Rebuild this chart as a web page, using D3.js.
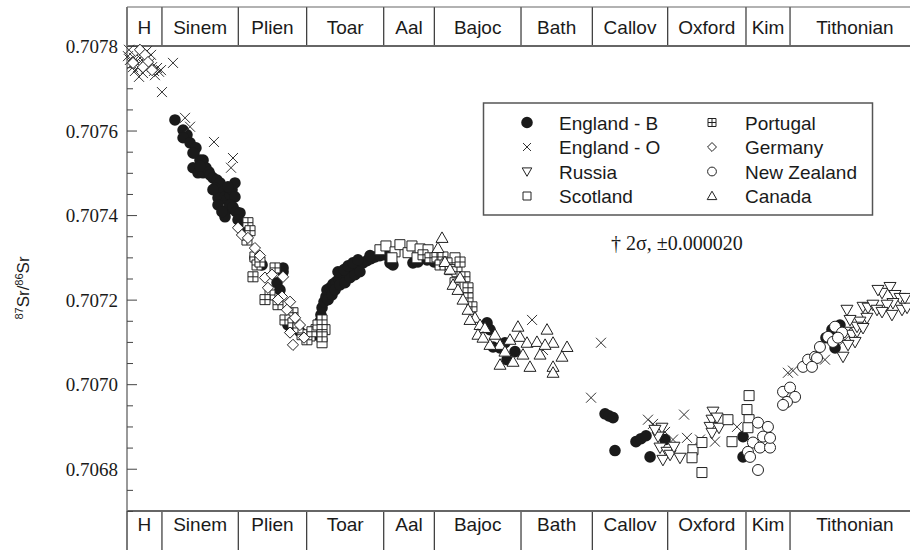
<!DOCTYPE html>
<html><head><meta charset="utf-8">
<script src="https://cdn.jsdelivr.net/npm/d3@7"></script>
<style>html,body{margin:0;padding:0;background:#fff;} svg{display:block}</style>
</head><body>
<svg id="c" width="910" height="550"></svg>
<script>
// ---- data ----
const stageNames = ["H","Sinem","Plien","Toar","Aal","Bajoc","Bath","Callov","Oxford","Kim","Tithonian"];
// stage boundaries on the (relative) age axis, Ma
const stageBoundsMa = [200.0,197.5,192.04,187.15,181.64,178.02,171.82,166.72,161.33,155.73,152.58,143.3];
const yTicksMajor = [0.7068,0.7070,0.7072,0.7074,0.7076,0.7078];

// [age Ma, 87Sr/86Sr]
const englandB = [[196.57,.707625],[195.99,.707601],[195.71,.707590],[195.99,.707583],[195.49,.707571],[195.21,.707547],[195.07,.707559],[195.28,.707512],[194.92,.707500],[194.78,.707530],[194.56,.707530],[194.56,.707500],[195.28,.707547],
[194.35,.707512],[194.14,.707502],[194.78,.707516],
[194.06,.707495],[193.85,.707488],[193.56,.707483],[193.35,.707476],[193.71,.707464],[193.21,.707452],[193.49,.707441],[192.99,.707443],[192.85,.707436],[192.63,.707448],[192.49,.707460],[192.28,.707443],[192.85,.707412],[192.63,.707424],[192.42,.707419],[192.20,.707408],[191.92,.707405],[192.99,.707396],[192.06,.707389],[191.78,.707377],[191.56,.707365],[193.85,.707460],[193.49,.707424],[193.21,.707408],[192.28,.707476],[192.78,.707467],
[190.85,.707299],[190.34,.707282],[188.84,.707266],[189.27,.707240],[189.06,.707223],[188.84,.707275],[188.49,.707140],[187.98,.707133],[187.63,.707124],[188.34,.707152],
[186.48,.707117],[186.34,.707133],[186.20,.707148],[186.13,.707164],[186.05,.707181],[185.91,.707195],[185.77,.707207],[185.70,.707223],[185.48,.707228],[185.27,.707237],[185.05,.707242],[184.84,.707249],[184.62,.707254],[184.34,.707259],[184.12,.707266],[183.91,.707271],[183.62,.707275],[183.41,.707280],[183.12,.707287],[182.84,.707292],[182.55,.707297],[182.26,.707301],[181.91,.707304],[181.55,.707306],[181.19,.707287],[185.62,.707200],[185.34,.707211],[185.12,.707223],[184.77,.707235],[184.41,.707240],[184.05,.707252],[183.69,.707259],[183.34,.707266],[184.91,.707266],[184.48,.707271],[184.19,.707280],[183.84,.707287],[183.48,.707294],[182.62,.707304],[180.98,.707282],
[179.55,.707287],[179.19,.707289],[178.54,.707294],[178.04,.707289],
[174.25,.707145],[174.04,.707129],[173.82,.707088],[173.32,.707086],[172.82,.707058],[172.25,.707077],[172.97,.707098],
[165.81,.706930],[165.53,.706925],[165.24,.706921],[165.10,.706843],[163.60,.706864],[163.24,.706871],[162.88,.706878],[162.59,.706828],[161.52,.706869],
[155.94,.706876],[155.94,.706828],
[149.58,.707129],[149.36,.707086],[149.01,.707140],[150.01,.707110]];

const englandO = [[199.93,.707776],[199.79,.707767],[199.64,.707757],[199.86,.707791],[199.50,.707772],[199.36,.707762],[199.21,.707750],[199.43,.707741],[199.07,.707779],[198.93,.707767],[198.78,.707755],[198.64,.707746],[198.86,.707736],[198.50,.707772],[198.36,.707760],[198.21,.707750],[198.07,.707741],[197.85,.707748],[197.71,.707739],[197.57,.707743],[198.00,.707731],[199.14,.707727],[199.57,.707750],[198.57,.707788],[198.28,.707779],
[196.71,.707760],[197.50,.707691],[195.85,.707630],[195.49,.707609],[193.78,.707573],[192.42,.707535],[192.56,.707512],
[171.03,.707152],[170.25,.707081],[166.10,.707098],[166.81,.706968],[162.74,.706916],[162.38,.706906],[160.95,.706869],[160.16,.706928],[159.95,.706873],[157.95,.706864],[156.37,.706899],[159.02,.706869],[161.52,.706887],
[152.73,.707027],[152.37,.707032],[150.08,.707058],[148.65,.707105]];

const russia = [[161.74,.706897],[162.02,.706876],[161.88,.706850],[161.38,.706840],[161.67,.706821],[161.16,.706833],[160.45,.706826],[158.09,.706935],[158.16,.706916],[158.30,.706899],[158.16,.706885],[162.24,.706892],[160.88,.706852],[157.80,.706921],[157.66,.706897],
[148.65,.707124],[148.15,.707117],[147.93,.707100],[147.79,.707124],[148.43,.707093],[148.79,.707065],[148.51,.707176],[147.36,.707183],[147.00,.707181],[146.65,.707188],[146.36,.707176],[146.00,.707216],[145.43,.707230],[145.07,.707211],[144.71,.707204],[145.22,.707192],[145.64,.707188],[146.00,.707171],[145.29,.707164],[144.57,.707176],[144.21,.707181],[146.29,.707223],[147.08,.707157],[147.58,.707148],[147.79,.707136],[147.36,.707133],[148.29,.707152],[144.36,.707204]];

const scotland = [[181.91,.707318],[181.48,.707327],[180.83,.707313],[180.48,.707330],[179.90,.707311],[179.62,.707327],[179.04,.707320],[178.47,.707318],[181.05,.707299],[179.26,.707299],[176.54,.707299],[186.91,.707114],[186.48,.707129],[185.84,.707129],[186.05,.707098],
[159.52,.706845],[159.59,.706826],[158.88,.706862],[158.88,.706791],[157.02,.706916],[156.73,.706864],[155.51,.706973],[155.66,.706940],[155.51,.706916],[155.59,.706897]];

const portugal = [[191.35,.707382],[191.20,.707363],[191.42,.707341],[190.85,.707301],[190.70,.707282],[190.99,.707254],[190.49,.707289],[189.41,.707275],[189.77,.707211],[189.20,.707188],[190.13,.707200],[188.13,.707169],[188.70,.707152],[188.13,.707145],[187.48,.707117],[187.13,.707105],[187.77,.707133],[186.77,.707124],[186.34,.707140],[186.05,.707152],[186.05,.707129],[186.05,.707112],
[178.83,.707306],[178.33,.707299],[177.83,.707301],[177.40,.707301],[177.11,.707287],[176.90,.707271],[176.40,.707266],[175.83,.707254],[175.61,.707228],[175.61,.707204],[175.33,.707183],[177.61,.707282],[176.54,.707240],[176.18,.707289]];

const germany = [[199.07,.707791],[198.71,.707779],[198.50,.707762],[198.21,.707743],[199.57,.707760],[198.86,.707750],
[192.06,.707370],[191.78,.707353],[191.35,.707346],[190.85,.707322],[190.49,.707304],[190.13,.707252],[188.84,.707254],[189.92,.707228],[188.91,.707207],[188.34,.707195],[188.56,.707176],[187.98,.707157],[188.34,.707122],[188.13,.707093],[187.63,.707140],[187.34,.707110],[189.63,.707259],[189.20,.707200]];

const newZealand = [[154.87,.706909],[154.16,.706899],[154.51,.706876],[155.23,.706862],[155.59,.706840],[154.73,.706850],[154.01,.706850],[154.87,.706797],[155.44,.706828],[154.01,.706873],
[153.08,.706982],[152.58,.706992],[152.22,.706970],[152.80,.706958],[153.08,.706951],
[151.65,.707041],[151.29,.707058],[150.79,.707065],[150.44,.707088],[150.65,.707062],[151.01,.707041],[149.86,.707112],[149.36,.707136],[149.51,.707100],[148.86,.707122],[149.15,.707110]];

const canada = [[177.47,.707346],[177.76,.707322],[177.26,.707289],[176.68,.707235],[176.33,.707223],[175.97,.707200],[175.61,.707176],[175.11,.707157],[174.75,.707140],[174.40,.707133],[174.90,.707117],[175.47,.707152],[176.18,.707252],[176.90,.707271],[173.68,.707117],[173.32,.707093],[172.97,.707077],[172.04,.707136],[169.96,.707129],[171.89,.707112],[171.39,.707098],[170.68,.707100],[169.53,.707098],[168.53,.707088],[168.89,.707065],[169.53,.707041],[171.18,.707041],[173.32,.707046],[172.39,.707053],[171.68,.707070],[169.53,.707027],[170.46,.707070],[170.10,.707093],[172.61,.707105],[174.04,.707093],[174.54,.707110]];

const legendCol1 = ["England - B","England - O","Russia","Scotland"];
const legendCol2 = ["Portugal","Germany","New Zealand","Canada"];
const noteText = "\u2020 2\u03c3, \u00b10.000020";

// ---- drawing ----
const svg = d3.select("#c");
const x = d3.scaleLinear().domain([200,144]).range([127,910]);
const y = d3.scaleLinear().domain([0.7067,0.7078]).range([511,46]);
const ink = "#1a1a1a";

function shape(type, k){
  const s = 5*k;
  switch(type){
    case "cross": return `M${-s},${-s}L${s},${s}M${-s},${s}L${s},${-s}`;
    case "tdown": return `M${-6*k},${-4.5*k}L${6*k},${-4.5*k}L0,${6*k}Z`;
    case "tup": return `M${-6*k},${4.5*k}L${6*k},${4.5*k}L0,${-6*k}Z`;
    case "square": return `M${-s},${-s}h${2*s}v${2*s}h${-2*s}Z`;
    case "sqplus": return `M${-s},${-s}h${2*s}v${2*s}h${-2*s}ZM0,${-s}V${s}M${-s},0H${s}`;
    case "diamond": { const d=5.6*k; return `M0,${-d}L${d},0L0,${d}L${-d},0Z`; }
    case "circle": { const r=5.5*k; return `M${r},0A${r},${r} 0 1 1 ${-r},0A${r},${r} 0 1 1 ${r},0Z`; }
    case "dot": { const r=5.8*k; return `M${r},0A${r},${r} 0 1 1 ${-r},0A${r},${r} 0 1 1 ${r},0Z`; }
  }
}
const series = [
  {name:"England - B", data:englandB, type:"dot"},
  {name:"England - O", data:englandO, type:"cross"},
  {name:"Russia", data:russia, type:"tdown"},
  {name:"Scotland", data:scotland, type:"square"},
  {name:"Portugal", data:portugal, type:"sqplus"},
  {name:"Germany", data:germany, type:"diamond"},
  {name:"New Zealand", data:newZealand, type:"circle"},
  {name:"Canada", data:canada, type:"tup"}
];
function styleMark(sel, type){
  if(type==="dot") sel.attr("fill","#1a1a1a").attr("stroke","none");
  else if(type==="cross") sel.attr("fill","none").attr("stroke","#333").attr("stroke-width",1);
  else sel.attr("fill","#fff").attr("stroke","#222").attr("stroke-width",1);
}

// stage bands
const bands = [{y0:7,y1:46,ty:33.5},{y0:511,y1:552,ty:531}];
const xs = stageBoundsMa.map(d=>x(d));
bands.forEach(b=>{
  const g = svg.append("g");
  g.selectAll("line.div").data(stageBoundsMa.slice(0,-1)).join("line")
    .attr("x1",d=>x(d)).attr("x2",d=>x(d)).attr("y1",b.y0).attr("y2",b.y1)
    .attr("stroke","#333").attr("stroke-width",1.2);
  g.selectAll("text").data(stageNames).join("text")
    .attr("x",(d,i)=>(xs[i]+xs[i+1])/2).attr("y",b.ty)
    .attr("text-anchor","middle").attr("font-family","'Liberation Sans', Arial, sans-serif")
    .attr("font-size",19).attr("fill",ink).text(d=>d);
});
svg.append("line").attr("x1",127).attr("x2",920).attr("y1",7).attr("y2",7).attr("stroke","#666").attr("stroke-width",1.2);
svg.append("line").attr("x1",127).attr("x2",920).attr("y1",46).attr("y2",46).attr("stroke","#666").attr("stroke-width",2);
svg.append("line").attr("x1",127).attr("x2",920).attr("y1",511).attr("y2",511).attr("stroke","#666").attr("stroke-width",2);
svg.append("line").attr("x1",127).attr("x2",127).attr("y1",7).attr("y2",550).attr("stroke","#777").attr("stroke-width",1.5);

// y axis (ticks inward)
const minor = d3.range(0,23).map(i=>+(0.7067+i*0.00005).toFixed(5)).filter(v=>!yTicksMajor.some(m=>Math.abs(m-v)<1e-7));
const gMinor = svg.append("g").attr("transform","translate(127,0)")
  .call(d3.axisLeft(y).tickValues(minor).tickSize(-6).tickFormat(""));
gMinor.select(".domain").remove();
gMinor.selectAll("line").attr("stroke","#444");
const gMajor = svg.append("g").attr("transform","translate(127,0)")
  .call(d3.axisLeft(y).tickValues(yTicksMajor).tickSize(-10).tickPadding(9).tickFormat(d3.format(".4f")));
gMajor.select(".domain").remove();
gMajor.selectAll("line").attr("stroke","#444");
gMajor.selectAll("text").attr("font-family","'Liberation Serif', 'Times New Roman', serif").attr("font-size",19).attr("fill",ink).attr("dy","0.34em");

// y title
const yt = svg.append("text").attr("transform","translate(28.5,288) rotate(-90)")
  .attr("text-anchor","middle").attr("font-family","'Liberation Sans', Arial, sans-serif").attr("font-size",17).attr("fill",ink);
yt.append("tspan").attr("font-size",11).attr("dy",-6).text("87");
yt.append("tspan").attr("dy",6).text("Sr/");
yt.append("tspan").attr("font-size",11).attr("dy",-6).text("86");
yt.append("tspan").attr("dy",6).text("Sr");

// points
series.forEach(s=>{
  svg.append("g").selectAll("path").data(s.data).join("path")
    .attr("transform",d=>`translate(${x(d[0])},${y(d[1])})`)
    .attr("d",shape(s.type,1))
    .call(sel=>styleMark(sel,s.type));
});

// legend
svg.append("rect").attr("x",483.5).attr("y",103).attr("width",389).attr("height",112)
  .attr("fill","#fff").attr("stroke","#555").attr("stroke-width",1.5);
const rowsY = [122.5,147,171.5,196];
[legendCol1,legendCol2].forEach((col,ci)=>{
  col.forEach((name,ri)=>{
    const s = series.find(q=>q.name===name);
    const sx = ci===0?527:712, tx = ci===0?559:745;
    svg.append("path").attr("transform",`translate(${sx},${rowsY[ri]})`)
      .attr("d",shape(s.type, s.type==="dot"?1.0:0.8)).call(sel=>styleMark(sel,s.type));
    svg.append("text").attr("x",tx).attr("y",rowsY[ri]+7).attr("font-family","'Liberation Sans', Arial, sans-serif")
      .attr("font-size",19).attr("fill",ink).text(name);
  });
});
svg.append("text").attr("x",611).attr("y",249.5).attr("font-family","'Liberation Serif', 'Times New Roman', serif")
  .attr("font-size",20).attr("fill",ink).text(noteText);
</script>
</body></html>
